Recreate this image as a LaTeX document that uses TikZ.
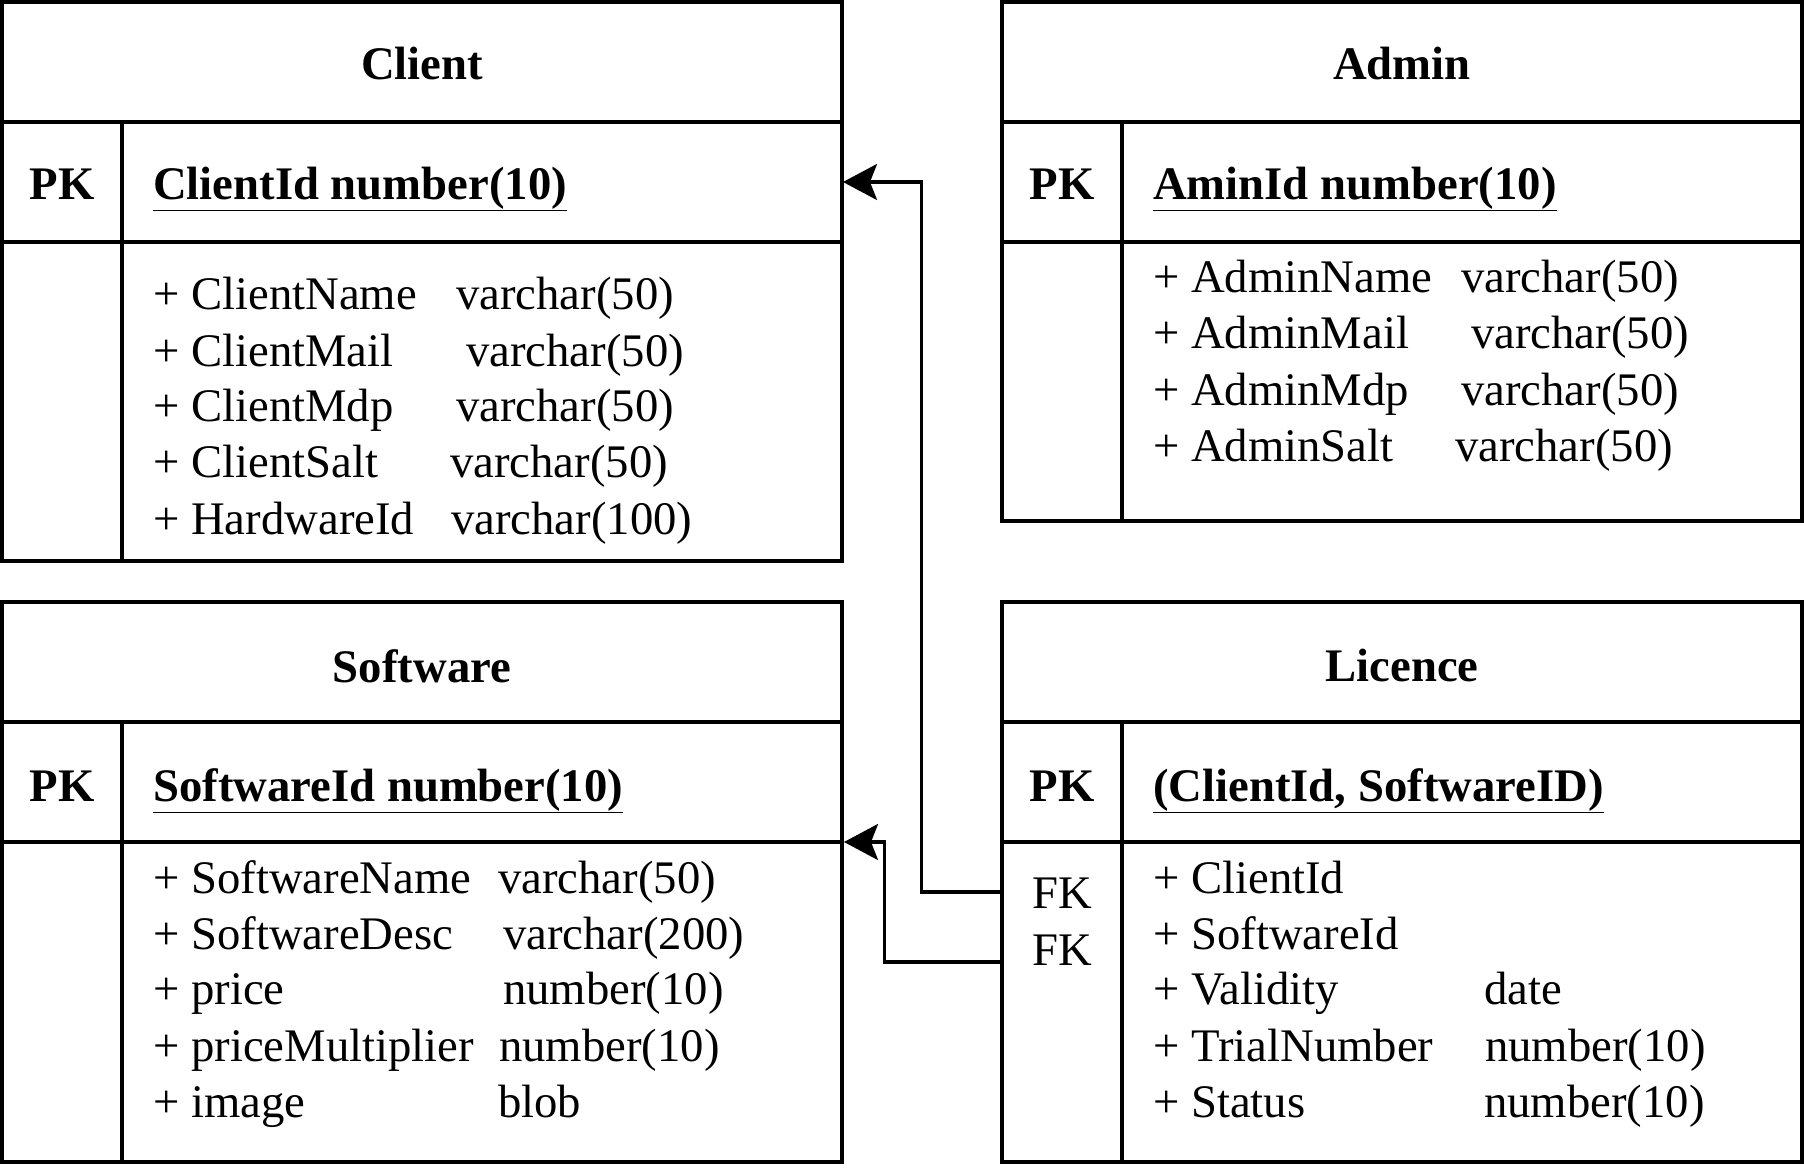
\documentclass[tikz,border=0pt]{standalone}
\usepackage{fontspec}
\setmainfont{Liberation Serif}
\usepackage{tikz}
\usetikzlibrary{arrows.meta}

\newcommand{\cellfont}{\fontsize{46.7}{56}\selectfont}

\begin{document}
\begin{tikzpicture}[x=1pt, y=-1pt,
  frame/.style={line width=3.5pt},
  title/.style={font=\cellfont\bfseries, inner sep=0pt},
  key/.style={font=\cellfont\bfseries, minimum width=120pt, inner sep=0pt,
              text height=0.66em, text depth=0pt},
  fkey/.style={font=\cellfont, minimum width=120pt, inner sep=0pt,
               text height=0.66em, text depth=0pt},
  pkey/.style={font=\cellfont\bfseries, anchor=west, inner sep=0pt,
               text height=0.66em, text depth=0pt},
  attr/.style={font=\cellfont, anchor=west, inner sep=0pt,
               text height=0.66em, text depth=0pt},
  arr/.style={-{Stealth[length=34pt, width=36pt, inset=7pt]}, line width=3.2pt}]

\useasboundingbox (0,0) rectangle (1804,1168);

% Client
\draw[frame] (2,2) rectangle (842,561);
\draw[frame] (2,122) -- (842,122) (2,242) -- (842,242) (122,122) -- (122,561);
\node[title] (client) at (422,64) {Client};
\node[key] (clientpk) at (62,196) {PK};
\node[pkey] (clientid) at (153,196) {\underline{ClientId number(10)}};
\coordinate (clientrow) at (843,182);
\node[attr] (cname) at (153,306) {+ ClientName};
\node[attr] (cnamet) at (456,306) {varchar(50)};
\node[attr] (cmail) at (153,363) {+ ClientMail};
\node[attr] (cmailt) at (466,363) {varchar(50)};
\node[attr] (cmdp) at (153,418) {+ ClientMdp};
\node[attr] (cmdpt) at (456,418) {varchar(50)};
\node[attr] (csalt) at (153,474) {+ ClientSalt};
\node[attr] (csaltt) at (450,474) {varchar(50)};
\node[attr] (chw) at (153,531) {+ HardwareId};
\node[attr] (chwt) at (451,531) {varchar(100)};

% Admin
\draw[frame] (1002,2) rectangle (1802,521);
\draw[frame] (1002,122) -- (1802,122) (1002,242) -- (1802,242) (1122,122) -- (1122,521);
\node[title] (admin) at (1402,64) {Admin};
\node[key] (adminpk) at (1062,196) {PK};
\node[pkey] (adminid) at (1153,196) {\underline{AminId number(10)}};
\node[attr] (aname) at (1153,289) {+ AdminName};
\node[attr] (anamet) at (1461,289) {varchar(50)};
\node[attr] (amail) at (1153,345) {+ AdminMail};
\node[attr] (amailt) at (1471,345) {varchar(50)};
\node[attr] (amdp) at (1153,402) {+ AdminMdp};
\node[attr] (amdpt) at (1461,402) {varchar(50)};
\node[attr] (asalt) at (1153,458) {+ AdminSalt};
\node[attr] (asaltt) at (1455,458) {varchar(50)};

% Software
\draw[frame] (2,602) rectangle (842,1162);
\draw[frame] (2,722) -- (842,722) (2,842) -- (842,842) (122,722) -- (122,1162);
\node[title] (soft) at (422,666) {Software};
\node[key] (softpk) at (62,798) {PK};
\node[pkey] (softid) at (153,798) {\underline{SoftwareId number(10)}};
\coordinate (softrow) at (844,842);
\node[attr] (sname) at (153,890) {+ SoftwareName};
\node[attr] (snamet) at (498,890) {varchar(50)};
\node[attr] (sdesc) at (153,946) {+ SoftwareDesc};
\node[attr] (sdesct) at (503,946) {varchar(200)};
\node[attr] (sprice) at (153,1001) {+ price};
\node[attr] (spricet) at (503,1001) {number(10)};
\node[attr] (smult) at (153,1058) {+ priceMultiplier};
\node[attr] (smultt) at (499,1058) {number(10)};
\node[attr] (simg) at (153,1114) {+ image};
\node[attr] (simgt) at (498,1114) {blob};

% Licence
\draw[frame] (1002,602) rectangle (1802,1162);
\draw[frame] (1002,722) -- (1802,722) (1002,842) -- (1802,842) (1122,722) -- (1122,1162);
\node[title] (lic) at (1402,666) {Licence};
\node[key] (licpk) at (1062,798) {PK};
\node[pkey] (licid) at (1153,798) {\underline{(ClientId, SoftwareID)}};
\node[fkey] (fk1) at (1062,905) {FK};
\node[fkey] (fk2) at (1062,962) {FK};
\node[attr] (lclient) at (1153,890) {+ ClientId};
\node[attr] (lsoft) at (1153,946) {+ SoftwareId};
\node[attr] (lval) at (1153,1001) {+ Validity};
\node[attr] (lvalt) at (1484,1001) {date};
\node[attr] (ltrial) at (1153,1058) {+ TrialNumber};
\node[attr] (ltrialt) at (1485,1058) {number(10)};
\node[attr] (lstat) at (1153,1114) {+ Status};
\node[attr] (lstatt) at (1484,1114) {number(10)};

% foreign keys
\draw[arr] ([yshift=13pt]fk1.west) -- ++(-80,0) |- (clientrow);
\draw[arr] (fk2.west) -- ++(-117,0) |- (softrow);
\end{tikzpicture}
\end{document}
